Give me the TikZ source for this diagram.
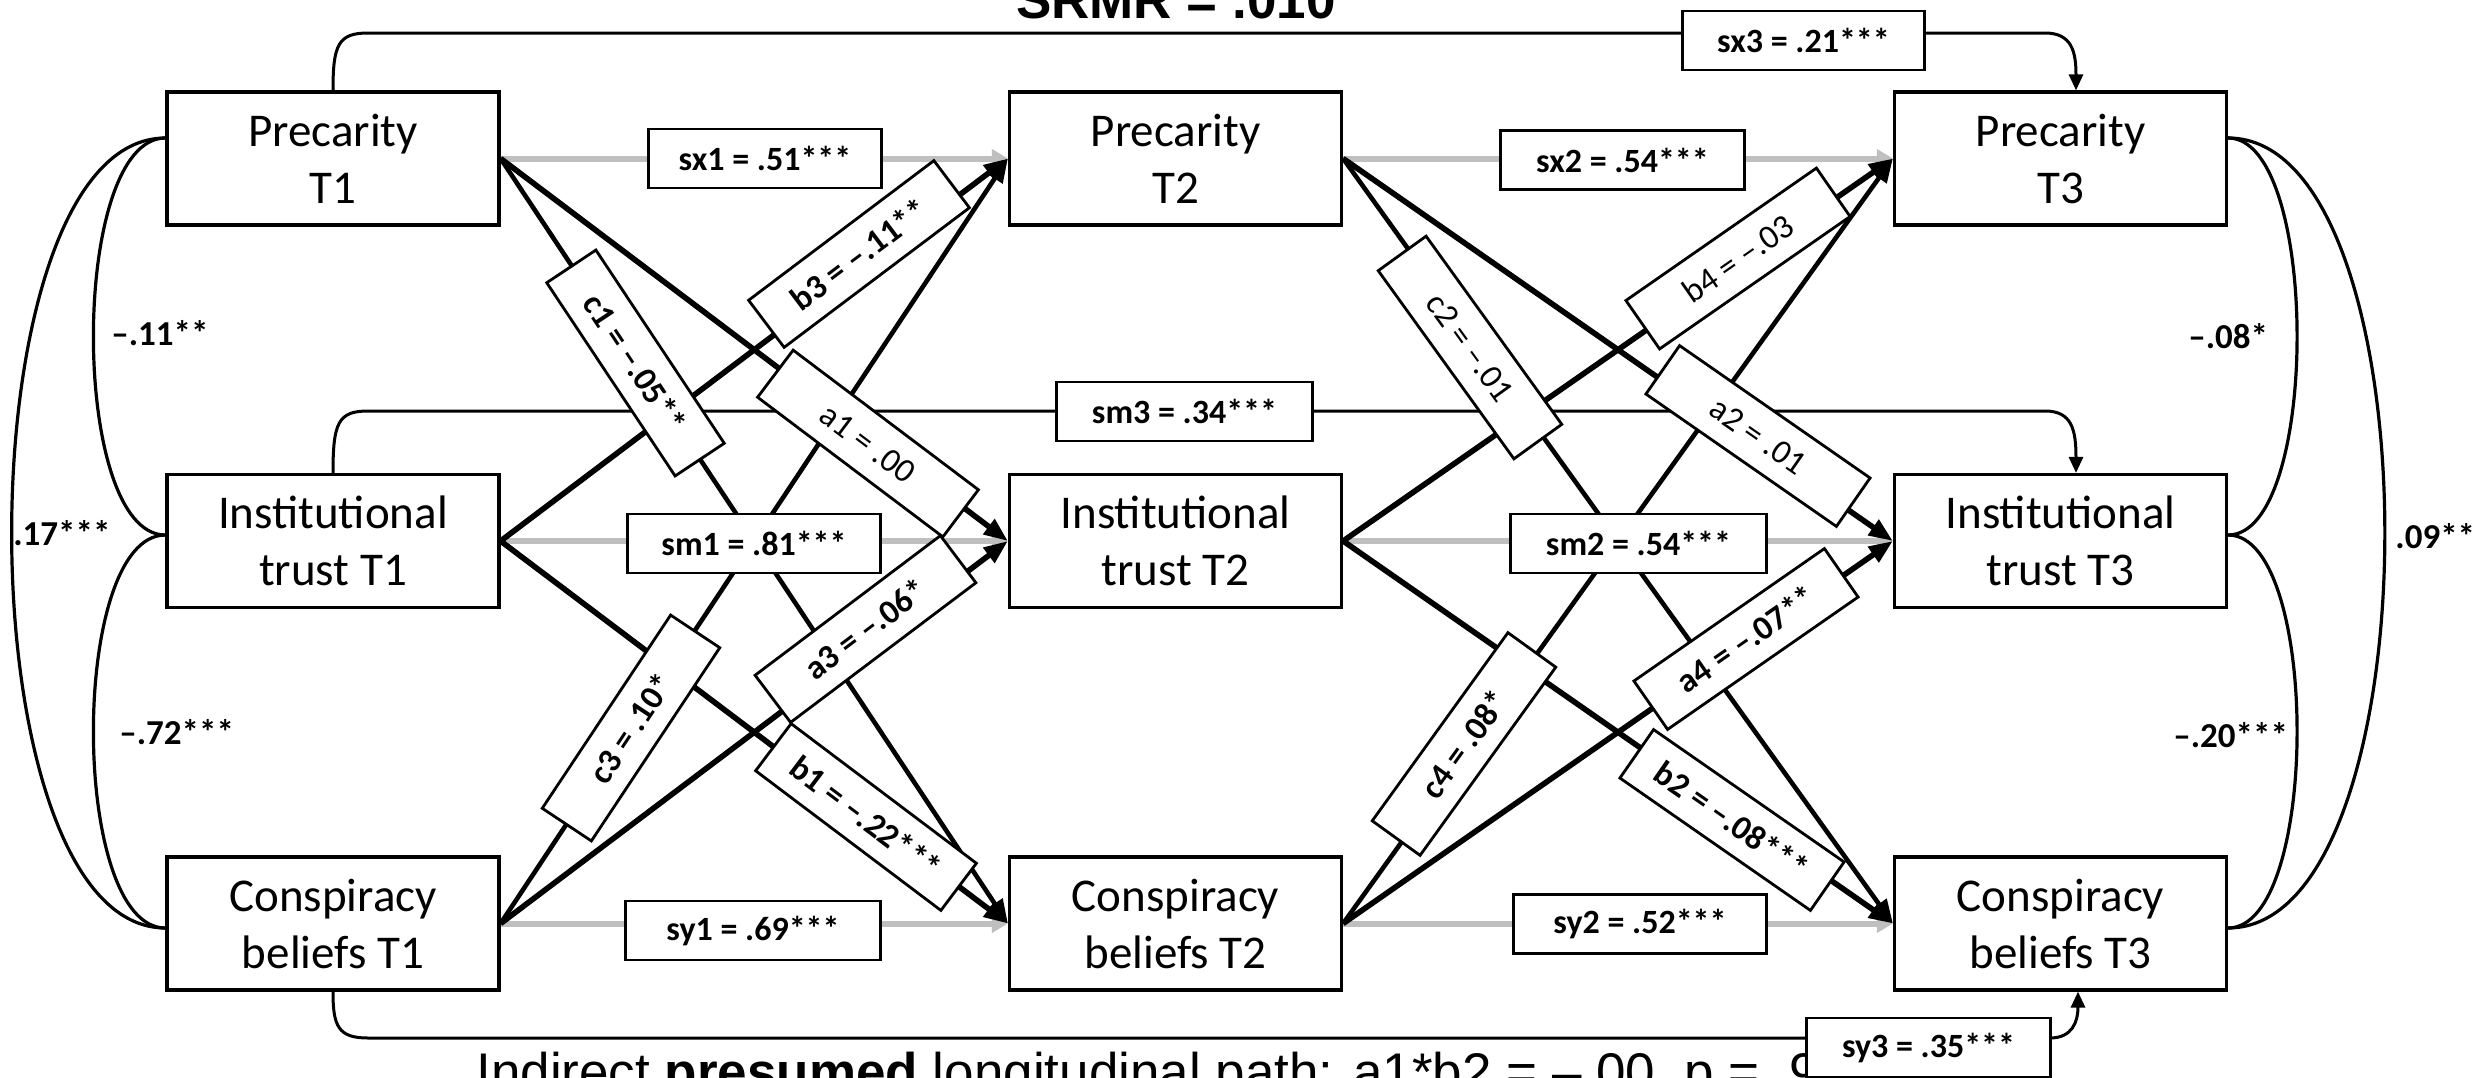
\documentclass[tikz,border=0pt]{standalone}
\usepackage{fontspec}
\setmainfont{Carlito}
\newfontfamily\arialfont{Liberation Sans}
\usetikzlibrary{arrows.meta}
\begin{document}
\begin{tikzpicture}[x=0.5pt,y=-0.5pt,
  var/.style={draw=black, line width=1.6pt, fill=white, minimum width=166pt, minimum height=66.5pt,
    align=center, inner sep=0pt, font=\fontsize{23.5pt}{28.5pt}\selectfont},
  lab/.style={draw=black, line width=1.4pt, fill=white, minimum height=29.5pt, inner sep=0pt,
    font=\fontsize{17pt}{20pt}\selectfont\bfseries},
  rlab/.style={lab, minimum width=116pt},
  rlabn/.style={rlab, font=\fontsize{17pt}{20pt}\selectfont},
  cl/.style={inner sep=0pt, anchor=west, font=\fontsize{17.5pt}{20pt}\selectfont\bfseries},
  grayarr/.style={draw=gray!50, line width=3pt, -{Triangle[length=8pt,width=9pt]}},
  shallow/.style={draw=black, line width=2.8pt, -{Triangle[length=12pt,width=9pt]}},
  steep/.style={draw=black, line width=2.3pt, -{Triangle[length=12pt,width=9pt]}},
  conn/.style={draw=black, line width=1.5pt, -{Triangle[length=8pt,width=7pt]}},
  cov/.style={draw=black, line width=1.6pt}
]
\useasboundingbox[fill=white] (0,0) rectangle (2486,1077);

% title and note
\node[inner sep=0pt, anchor=base, font=\arialfont\bfseries\fontsize{26.5pt}{30pt}\selectfont] (title) at (1176,18) {SRMR = .010};
\node[inner sep=0pt, anchor=base west, font=\arialfont\fontsize{26.5pt}{30pt}\selectfont] (note) at (476,1090) {Indirect \textbf{presumed} longitudinal path: a1*b2 = –.00, p = .9};

% variable boxes
\node[var] (P1) at (333,158.5) {Precarity\\T1};
\node[var] (I1) at (333,541) {Institutional\\trust T1};
\node[var] (C1) at (333,923.5) {Conspiracy\\beliefs T1};
\node[var] (P2) at (1175.5,158.5) {Precarity\\T2};
\node[var] (I2) at (1175.5,541) {Institutional\\trust T2};
\node[var] (C2) at (1175.5,923.5) {Conspiracy\\beliefs T2};
\node[var] (P3) at (2060.5,158.5) {Precarity\\T3};
\node[var] (I3) at (2060.5,541) {Institutional\\trust T3};
\node[var] (C3) at (2060.5,923.5) {Conspiracy\\beliefs T3};

% covariances left
\draw[cov] ([yshift=10.25pt]P1.west) .. controls +(-96,0) and +(-96,0) .. ([yshift=3pt]I1.west);
\draw[cov] ([yshift=3pt]I1.west) .. controls +(-96,0) and +(-96,0) .. ([yshift=-2.25pt]C1.west);
\draw[cov] ([yshift=10.25pt]P1.west) .. controls +(-205,0) and +(-205,0) .. ([yshift=-2.25pt]C1.west);
% covariances right
\draw[cov] ([yshift=10.25pt]P3.east) .. controls +(92,0) and +(92,0) .. ([yshift=3pt]I3.east);
\draw[cov] ([yshift=3pt]I3.east) .. controls +(92,0) and +(92,0) .. ([yshift=-2.25pt]C3.east);
\draw[cov] ([yshift=10.25pt]P3.east) .. controls +(209,0) and +(209,0) .. ([yshift=-2.25pt]C3.east);

\node[cl] (k1) at (111,333) {–.11**};
\node[cl] (k2) at (119,732) {–.72***};
\node[cl] (k3) at (13,533) {.17***};
\node[cl] (k4) at (2188,336) {–.08*};
\node[cl] (k5) at (2173,735) {–.20***};
\node[cl] (k6) at (2395,536) {.09**};

% stability paths (gray)
\draw[grayarr] (P1.east) -- (P2.west);
\draw[grayarr] (I1.east) -- (I2.west);
\draw[grayarr] (C1.east) -- (C2.west);
\draw[grayarr] (P2.east) -- (P3.west);
\draw[grayarr] (I2.east) -- (I3.west);
\draw[grayarr] (C2.east) -- (C3.west);

% cross-lagged paths
\draw[shallow] (P1.east) -- (I2.west);
\draw[steep] (P1.east) -- (C2.west);
\draw[shallow] (I1.east) -- (P2.west);
\draw[shallow] (I1.east) -- (C2.west);
\draw[steep] (C1.east) -- (P2.west);
\draw[shallow] (C1.east) -- (I2.west);
\draw[shallow] (P2.east) -- (I3.west);
\draw[steep] (P2.east) -- (C3.west);
\draw[shallow] (I2.east) -- (P3.west);
\draw[shallow] (I2.east) -- (C3.west);
\draw[steep] (C2.east) -- (P3.west);
\draw[shallow] (C2.east) -- (I3.west);

% T1 -> T3 paths
\draw[conn] (P1.north) .. controls (333,45) and (338,33) .. (368,33) -- (2045,33)
  .. controls (2072,33) and (2076,52) .. ([xshift=7.75pt]P3.north);
\draw[conn] (I1.north) .. controls (333,423) and (338,411) .. (368,411) -- (2045,411)
  .. controls (2072,411) and (2076,430) .. ([xshift=7.75pt]I3.north);
\draw[conn] (C1.south) .. controls (333,1026) and (338,1038) .. (368,1038) -- (2050,1038)
  .. controls (2072,1038) and (2078,1022) .. ([xshift=8.75pt]C3.south);

% horizontal labels
\node[lab, minimum width=116.5pt] (Lsx1) at (765,158.5) {sx1 = .51***};
\node[lab, minimum width=126.5pt] (Lsm1) at (754,543.5) {sm1 = .81***};
\node[lab, minimum width=127.5pt] (Lsy1) at (753,930.5) {sy1 = .69***};
\node[lab, minimum width=122pt] (Lsx2) at (1622.5,160) {sx2 = .54***};
\node[lab, minimum width=128pt] (Lsm2) at (1638.5,543.5) {sm2 = .54***};
\node[lab, minimum width=126.5pt] (Lsy2) at (1640,924) {sy2 = .52***};
\node[lab, minimum width=121pt] (Lsx3) at (1803.5,40.5) {sx3 = .21***};
\node[lab, minimum width=128pt] (Lsm3) at (1184.5,411.5) {sm3 = .34***};
\node[lab, minimum width=122pt] (Lsy3) at (1928.5,1047.5) {sy3 = .35***};

% rotated labels
\node[rlab, rotate=-56.4] (Lc1) at (635.5,363) {c1 = –.05**};
\node[rlab, rotate=37] (Lb3) at (859,254) {b3 = –.11**};
\node[rlabn, rotate=-37] (La1) at (868,443.5) {a1 = .00};
\node[rlab, rotate=37] (La3) at (865.5,629) {a3 = –.06*};
\node[rlab, rotate=-37] (Lb1) at (866,817) {b1 = –.22***};
\node[rlab, rotate=56.4] (Lc3) at (631,728) {c3 = .10*};
\node[rlabn, rotate=-54.2] (Lc2) at (1470,347.5) {c2 = –.01};
\node[rlabn, rotate=34.8] (Lb4) at (1738,258.5) {b4 = –.03};
\node[rlabn, rotate=-34.8] (La2) at (1758,436) {a2 = .01};
\node[rlab, rotate=54.2] (Lc4) at (1464,744) {c4 = .08*};
\node[rlab, rotate=34.8] (La4) at (1746,639) {a4 = –.07**};
\node[rlab, rotate=-34.8] (Lb2) at (1732,820) {b2 = –.08***};
\end{tikzpicture}
\end{document}
